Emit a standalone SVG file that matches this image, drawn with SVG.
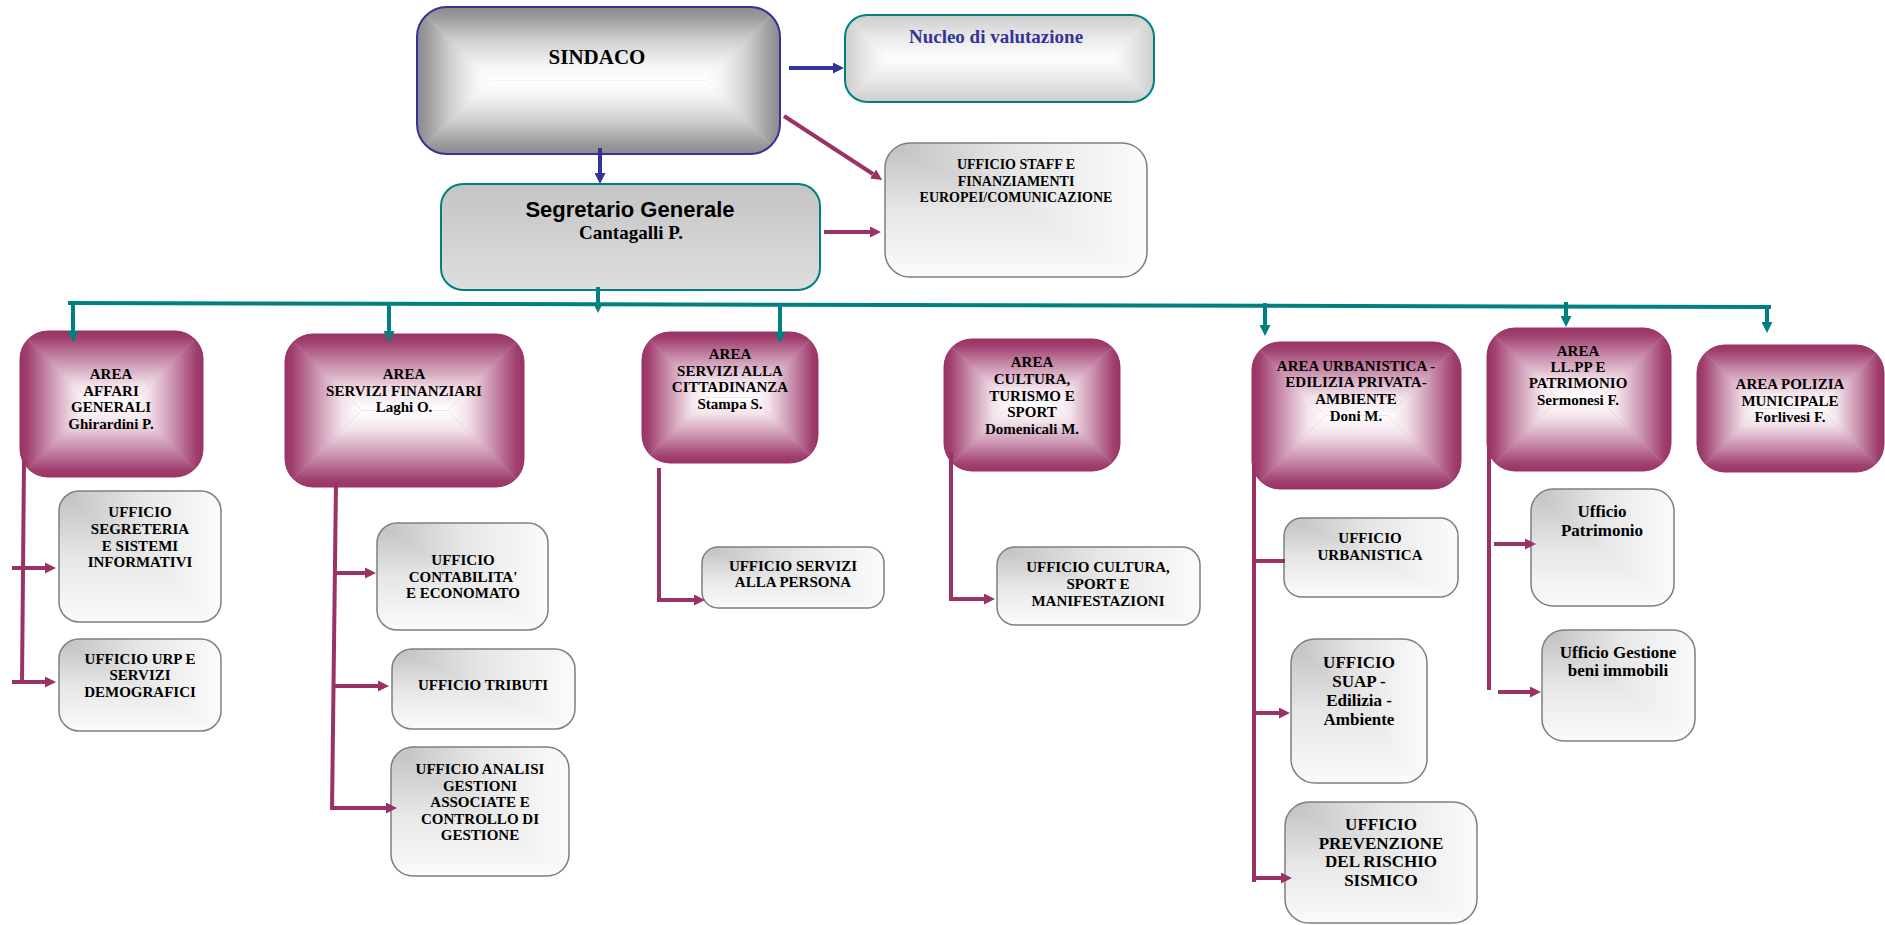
<svg xmlns="http://www.w3.org/2000/svg" width="1885" height="925" viewBox="0 0 1885 925">
<style>
.t{font-family:"Liberation Serif","Times New Roman",serif;font-weight:bold;text-anchor:middle;fill:#000;font-size:15px}
.t17{font-size:17px}
.box{stroke:#7f7f7f;stroke-width:1.5;fill:url(#pCorner)}
.ln{fill:none;stroke-width:4}
.pu{stroke:#993366}
.te{stroke:#008080}
.bl{stroke:#333399}
.mT{fill:url(#mT)}.mB{fill:url(#mB)}.mL{fill:url(#mL)}.mR{fill:url(#mR)}
.sT{fill:url(#sT)}.sB{fill:url(#sB)}.sL{fill:url(#sL)}.sR{fill:url(#sR)}
.nT{fill:url(#nT)}.nB{fill:url(#nB)}.nL{fill:url(#nL)}.nR{fill:url(#nR)}
.aedge{fill:none;stroke:#993366;stroke-width:1}
</style>
<defs>
<linearGradient id="gH" x1="0" y1="0" x2="1" y2="0"><stop offset="0" stop-color="#c0c0c0"/><stop offset="0.5" stop-color="#e6e6e6"/><stop offset="1" stop-color="#fbfbfb"/></linearGradient>
<linearGradient id="gV" href="#gH" x1="0" y1="0" x2="0" y2="1"/>
<pattern id="pCorner" width="1" height="1" patternContentUnits="objectBoundingBox">
<rect x="0" y="0" width="1" height="1" fill="url(#gH)"/>
<polygon points="0,0 1,0 1,1" fill="url(#gH)"/>
<polygon points="0,0 0,1 1,1" fill="url(#gV)"/>
</pattern>
<linearGradient id="mT" x1="0" y1="0" x2="0" y2="1"><stop offset="0" stop-color="#993366"/><stop offset="0.1" stop-color="#a0406f"/><stop offset="0.4" stop-color="#c98fad"/><stop offset="0.75" stop-color="#f3e3eb"/><stop offset="1" stop-color="#ffffff"/></linearGradient>
<linearGradient id="mB" href="#mT" x1="0" y1="1" x2="0" y2="0"/>
<linearGradient id="mL" href="#mT" x1="0" y1="0" x2="1" y2="0"/>
<linearGradient id="mR" href="#mT" x1="1" y1="0" x2="0" y2="0"/>
<linearGradient id="sT" x1="0" y1="0" x2="0" y2="1"><stop offset="0" stop-color="#8a8a8a"/><stop offset="0.12" stop-color="#999999"/><stop offset="0.45" stop-color="#cfcfcf"/><stop offset="0.8" stop-color="#f5f5f5"/><stop offset="1" stop-color="#ffffff"/></linearGradient>
<linearGradient id="sB" href="#sT" x1="0" y1="1" x2="0" y2="0"/>
<linearGradient id="sL" href="#sT" x1="0" y1="0" x2="1" y2="0"/>
<linearGradient id="sR" href="#sT" x1="1" y1="0" x2="0" y2="0"/>
<linearGradient id="nT" x1="0" y1="0" x2="0" y2="1"><stop offset="0" stop-color="#cdcdcd"/><stop offset="0.5" stop-color="#e8e8e8"/><stop offset="1" stop-color="#ffffff"/></linearGradient>
<linearGradient id="nB" href="#nT" x1="0" y1="1" x2="0" y2="0"/>
<linearGradient id="nL" href="#nT" x1="0" y1="0" x2="1" y2="0"/>
<linearGradient id="nR" href="#nT" x1="1" y1="0" x2="0" y2="0"/>
<linearGradient id="segG" x1="0" y1="0" x2="0" y2="1"><stop offset="0" stop-color="#c4c4c4"/><stop offset="1" stop-color="#dedede"/></linearGradient>
<clipPath id="cS"><rect x="417" y="7" width="363" height="147" rx="30"/></clipPath>
<clipPath id="cN"><rect x="845" y="15" width="309" height="87" rx="22"/></clipPath>
<clipPath id="cA1"><rect x="20" y="331" width="183" height="146" rx="28"/></clipPath>
<clipPath id="cA2"><rect x="285" y="334" width="239" height="153" rx="28"/></clipPath>
<clipPath id="cA3"><rect x="642" y="332" width="176" height="131" rx="28"/></clipPath>
<clipPath id="cA4"><rect x="944" y="339" width="176" height="132" rx="28"/></clipPath>
<clipPath id="cA5"><rect x="1252" y="342" width="209" height="147" rx="28"/></clipPath>
<clipPath id="cA6"><rect x="1487" y="328" width="184" height="143" rx="28"/></clipPath>
<clipPath id="cA7"><rect x="1697" y="345" width="187" height="127" rx="28"/></clipPath>
<marker id="aPu" viewBox="0 0 10 10" refX="0" refY="5" markerWidth="11" markerHeight="11" markerUnits="userSpaceOnUse" orient="auto"><path d="M0,0 L10,5 L0,10 z" fill="#993366"/></marker>
<marker id="aTe" viewBox="0 0 10 10" refX="0" refY="5" markerWidth="11" markerHeight="11" markerUnits="userSpaceOnUse" orient="auto"><path d="M0,0 L10,5 L0,10 z" fill="#008080"/></marker>
<marker id="aTeS" viewBox="0 0 10 10" refX="0" refY="5" markerWidth="7" markerHeight="7" markerUnits="userSpaceOnUse" orient="auto"><path d="M0,0 L10,5 L0,10 z" fill="#008080"/></marker>
<marker id="aBl" viewBox="0 0 10 10" refX="0" refY="5" markerWidth="11" markerHeight="11" markerUnits="userSpaceOnUse" orient="auto"><path d="M0,0 L10,5 L0,10 z" fill="#333399"/></marker>
</defs>

<g id="sindaco">
<g clip-path="url(#cS)">
<rect x="417" y="7" width="363" height="147" fill="#cfcfcf"/>
<polygon class="sT" points="417,7 780,7 706.5,80.5 490.5,80.5"/>
<polygon class="sB" points="417,154 780,154 706.5,80.5 490.5,80.5"/>
<polygon class="sL" points="417,7 490.5,80.5 417,154"/>
<polygon class="sR" points="780,7 706.5,80.5 780,154"/>
</g>
<rect x="417" y="7" width="363" height="147" rx="30" fill="none" stroke="#333399" stroke-width="2"/>
<text class="t" x="597" y="64" style="font-size:21px">SINDACO</text>
</g>

<g id="nucleo">
<g clip-path="url(#cN)">
<rect x="845" y="15" width="309" height="87" fill="#e8e8e8"/>
<polygon class="nT" points="845,15 1154,15 1110.5,58.5 888.5,58.5"/>
<polygon class="nB" points="845,102 1154,102 1110.5,58.5 888.5,58.5"/>
<polygon class="nL" points="845,15 888.5,58.5 845,102"/>
<polygon class="nR" points="1154,15 1110.5,58.5 1154,102"/>
</g>
<rect x="845" y="15" width="309" height="87" rx="22" fill="none" stroke="#008080" stroke-width="2"/>
<text class="t" x="996" y="43" style="font-size:19px;fill:#333399">Nucleo di valutazione</text>
</g>

<g id="segretario">
<rect x="441" y="184" width="379" height="106" rx="22" fill="url(#segG)" stroke="#008080" stroke-width="2"/>
<text x="630" y="217" style="font-family:'Liberation Sans',Arial,sans-serif;font-weight:bold;font-size:22px;text-anchor:middle">Segretario Generale</text>
<text class="t" x="631" y="239" style="font-size:19px">Cantagalli P.</text>
</g>

<g id="staff">
<rect class="box" x="885" y="143" width="262" height="134" rx="25"/>
<text class="t" x="1016" style="font-size:14px"><tspan x="1016" y="169">UFFICIO STAFF E</tspan><tspan x="1016" y="186">FINANZIAMENTI</tspan><tspan x="1016" y="202">EUROPEI/COMUNICAZIONE</tspan></text>
</g>

<g id="area1">
<g clip-path="url(#cA1)">
<rect x="20" y="331" width="183" height="146" fill="#c98fad"/>
<polygon class="mT" points="20,331 203,331 130,404 93,404"/>
<polygon class="mB" points="20,477 203,477 130,404 93,404"/>
<polygon class="mL" points="20,331 93,404 20,477"/>
<polygon class="mR" points="203,331 130,404 203,477"/>
</g>
<rect class="aedge" x="20" y="331" width="183" height="146" rx="28"/>
<text class="t"><tspan x="111" y="379">AREA</tspan><tspan x="111" y="396">AFFARI</tspan><tspan x="111" y="412">GENERALI</tspan><tspan x="111" y="429">Ghirardini P.</tspan></text>
</g>

<g id="area2">
<g clip-path="url(#cA2)">
<rect x="285" y="334" width="239" height="153" fill="#c98fad"/>
<polygon class="mT" points="285,334 524,334 447.5,410.5 361.5,410.5"/>
<polygon class="mB" points="285,487 524,487 447.5,410.5 361.5,410.5"/>
<polygon class="mL" points="285,334 361.5,410.5 285,487"/>
<polygon class="mR" points="524,334 447.5,410.5 524,487"/>
</g>
<rect class="aedge" x="285" y="334" width="239" height="153" rx="28"/>
<text class="t"><tspan x="404" y="379">AREA</tspan><tspan x="404" y="396">SERVIZI FINANZIARI</tspan><tspan x="404" y="412">Laghi O.</tspan></text>
</g>

<g id="area3">
<g clip-path="url(#cA3)">
<rect x="642" y="332" width="176" height="131" fill="#c98fad"/>
<polygon class="mT" points="642,332 818,332 752.5,397.5 707.5,397.5"/>
<polygon class="mB" points="642,463 818,463 752.5,397.5 707.5,397.5"/>
<polygon class="mL" points="642,332 707.5,397.5 642,463"/>
<polygon class="mR" points="818,332 752.5,397.5 818,463"/>
</g>
<rect class="aedge" x="642" y="332" width="176" height="131" rx="28"/>
<text class="t"><tspan x="730" y="359">AREA</tspan><tspan x="730" y="376">SERVIZI ALLA</tspan><tspan x="730" y="392">CITTADINANZA</tspan><tspan x="730" y="409">Stampa S.</tspan></text>
</g>

<g id="area4">
<g clip-path="url(#cA4)">
<rect x="944" y="339" width="176" height="132" fill="#c98fad"/>
<polygon class="mT" points="944,339 1120,339 1054,405 1010,405"/>
<polygon class="mB" points="944,471 1120,471 1054,405 1010,405"/>
<polygon class="mL" points="944,339 1010,405 944,471"/>
<polygon class="mR" points="1120,339 1054,405 1120,471"/>
</g>
<rect class="aedge" x="944" y="339" width="176" height="132" rx="28"/>
<text class="t"><tspan x="1032" y="367">AREA</tspan><tspan x="1032" y="384">CULTURA,</tspan><tspan x="1032" y="401">TURISMO E</tspan><tspan x="1032" y="417">SPORT</tspan><tspan x="1032" y="434">Domenicali M.</tspan></text>
</g>

<g id="area5">
<g clip-path="url(#cA5)">
<rect x="1252" y="342" width="209" height="147" fill="#c98fad"/>
<polygon class="mT" points="1252,342 1461,342 1387.5,415.5 1325.5,415.5"/>
<polygon class="mB" points="1252,489 1461,489 1387.5,415.5 1325.5,415.5"/>
<polygon class="mL" points="1252,342 1325.5,415.5 1252,489"/>
<polygon class="mR" points="1461,342 1387.5,415.5 1461,489"/>
</g>
<rect class="aedge" x="1252" y="342" width="209" height="147" rx="28"/>
<text class="t"><tspan x="1356" y="371">AREA URBANISTICA -</tspan><tspan x="1356" y="387">EDILIZIA PRIVATA-</tspan><tspan x="1356" y="404">AMBIENTE</tspan><tspan x="1356" y="421">Doni M.</tspan></text>
</g>

<g id="area6">
<g clip-path="url(#cA6)">
<rect x="1487" y="328" width="184" height="143" fill="#c98fad"/>
<polygon class="mT" points="1487,328 1671,328 1599.5,399.5 1558.5,399.5"/>
<polygon class="mB" points="1487,471 1671,471 1599.5,399.5 1558.5,399.5"/>
<polygon class="mL" points="1487,328 1558.5,399.5 1487,471"/>
<polygon class="mR" points="1671,328 1599.5,399.5 1671,471"/>
</g>
<rect class="aedge" x="1487" y="328" width="184" height="143" rx="28"/>
<text class="t"><tspan x="1578" y="356">AREA</tspan><tspan x="1578" y="372">LL.PP E</tspan><tspan x="1578" y="388">PATRIMONIO</tspan><tspan x="1578" y="405">Sermonesi F.</tspan></text>
</g>

<g id="area7">
<g clip-path="url(#cA7)">
<rect x="1697" y="345" width="187" height="127" fill="#c98fad"/>
<polygon class="mT" points="1697,345 1884,345 1820.5,408.5 1760.5,408.5"/>
<polygon class="mB" points="1697,472 1884,472 1820.5,408.5 1760.5,408.5"/>
<polygon class="mL" points="1697,345 1760.5,408.5 1697,472"/>
<polygon class="mR" points="1884,345 1820.5,408.5 1884,472"/>
</g>
<rect class="aedge" x="1697" y="345" width="187" height="127" rx="28"/>
<text class="t"><tspan x="1790" y="389">AREA POLIZIA</tspan><tspan x="1790" y="406">MUNICIPALE</tspan><tspan x="1790" y="422">Forlivesi F.</tspan></text>
</g>

<g id="uff-segreteria">
<rect class="box" x="59" y="491" width="162" height="131" rx="20"/>
<text class="t"><tspan x="140" y="517">UFFICIO</tspan><tspan x="140" y="534">SEGRETERIA</tspan><tspan x="140" y="551">E SISTEMI</tspan><tspan x="140" y="567">INFORMATIVI</tspan></text>
</g>
<g id="uff-urp">
<rect class="box" x="59" y="639" width="162" height="92" rx="20"/>
<text class="t"><tspan x="140" y="664">UFFICIO URP E</tspan><tspan x="140" y="680">SERVIZI</tspan><tspan x="140" y="697">DEMOGRAFICI</tspan></text>
</g>
<g id="uff-contabilita">
<rect class="box" x="377" y="523" width="171" height="107" rx="20"/>
<text class="t"><tspan x="463" y="565">UFFICIO</tspan><tspan x="463" y="582">CONTABILITA'</tspan><tspan x="463" y="598">E ECONOMATO</tspan></text>
</g>
<g id="uff-tributi">
<rect class="box" x="392" y="649" width="183" height="80" rx="20"/>
<text class="t" x="483" y="690">UFFICIO TRIBUTI</text>
</g>
<g id="uff-analisi">
<rect class="box" x="391" y="747" width="178" height="129" rx="22"/>
<text class="t"><tspan x="480" y="774">UFFICIO ANALISI</tspan><tspan x="480" y="790.5">GESTIONI</tspan><tspan x="480" y="807">ASSOCIATE E</tspan><tspan x="480" y="823.5">CONTROLLO DI</tspan><tspan x="480" y="840">GESTIONE</tspan></text>
</g>
<g id="uff-persona">
<rect class="box" x="702" y="547" width="182" height="61" rx="16"/>
<text class="t"><tspan x="793" y="571">UFFICIO SERVIZI</tspan><tspan x="793" y="587">ALLA PERSONA</tspan></text>
</g>
<g id="uff-cultura">
<rect class="box" x="997" y="547" width="203" height="78" rx="18"/>
<text class="t"><tspan x="1098" y="572">UFFICIO CULTURA,</tspan><tspan x="1098" y="589">SPORT  E</tspan><tspan x="1098" y="606">MANIFESTAZIONI</tspan></text>
</g>
<g id="uff-urbanistica">
<rect class="box" x="1284" y="518" width="174" height="79" rx="18"/>
<text class="t"><tspan x="1370" y="543">UFFICIO</tspan><tspan x="1370" y="560">URBANISTICA</tspan></text>
</g>
<g id="uff-suap">
<rect class="box" x="1291" y="639" width="136" height="144" rx="24"/>
<text class="t t17"><tspan x="1359" y="668">UFFICIO</tspan><tspan x="1359" y="687">SUAP -</tspan><tspan x="1359" y="706">Edilizia -</tspan><tspan x="1359" y="725">Ambiente</tspan></text>
</g>
<g id="uff-prevenzione">
<rect class="box" x="1285" y="802" width="192" height="121" rx="24"/>
<text class="t t17"><tspan x="1381" y="830">UFFICIO</tspan><tspan x="1381" y="849">PREVENZIONE</tspan><tspan x="1381" y="867">DEL RISCHIO</tspan><tspan x="1381" y="886">SISMICO</tspan></text>
</g>
<g id="uff-patrimonio">
<rect class="box" x="1531" y="489" width="143" height="117" rx="22"/>
<text class="t t17"><tspan x="1602" y="517">Ufficio</tspan><tspan x="1602" y="536">Patrimonio</tspan></text>
</g>
<g id="uff-gestione">
<rect class="box" x="1542" y="630" width="153" height="111" rx="22"/>
<text class="t t17"><tspan x="1618" y="658">Ufficio Gestione</tspan><tspan x="1618" y="676">beni immobili</tspan></text>
</g>

<g id="connectors">
<path class="ln bl" d="M789,68 H833" marker-end="url(#aBl)"/>
<path class="ln bl" d="M600,148 V173" marker-end="url(#aBl)"/>
<path class="ln pu" d="M784,116 L873,174" marker-end="url(#aPu)"/>
<path class="ln pu" d="M824,232 H870" marker-end="url(#aPu)"/>
<path class="ln te" d="M68,303 L1771,307"/>
<path class="ln te" d="M598,287 V306" marker-end="url(#aTeS)"/>
<path class="ln te" d="M73,303 V331" marker-end="url(#aTe)"/>
<path class="ln te" d="M389,304 V331" marker-end="url(#aTe)"/>
<path class="ln te" d="M780,305 V332" marker-end="url(#aTe)"/>
<path class="ln te" d="M1265,303 V325" marker-end="url(#aTe)"/>
<path class="ln te" d="M1566,302 V316" marker-end="url(#aTe)"/>
<path class="ln te" d="M1767,305 V322" marker-end="url(#aTe)"/>
<path class="ln pu" d="M24,460 L22,684"/>
<path class="ln pu" d="M12,568 H45" marker-end="url(#aPu)"/>
<path class="ln pu" d="M12,682 H45" marker-end="url(#aPu)"/>
<path class="ln pu" d="M336,482 L332,810"/>
<path class="ln pu" d="M334,573 H365" marker-end="url(#aPu)"/>
<path class="ln pu" d="M333,686 H378" marker-end="url(#aPu)"/>
<path class="ln pu" d="M330,808 H386" marker-end="url(#aPu)"/>
<path class="ln pu" d="M659,468 V602"/>
<path class="ln pu" d="M657,600 H694" marker-end="url(#aPu)"/>
<path class="ln pu" d="M951,452 V601"/>
<path class="ln pu" d="M949,599 H984" marker-end="url(#aPu)"/>
<path class="ln pu" d="M1254,463 V882"/>
<path class="ln pu" d="M1256,561 H1285"/>
<path class="ln pu" d="M1254,713 H1279" marker-end="url(#aPu)"/>
<path class="ln pu" d="M1254,878 H1281" marker-end="url(#aPu)"/>
<path class="ln pu" d="M1489,445 V690"/>
<path class="ln pu" d="M1494,544 H1525" marker-end="url(#aPu)"/>
<path class="ln pu" d="M1498,692 H1530" marker-end="url(#aPu)"/>
</g>
</svg>
